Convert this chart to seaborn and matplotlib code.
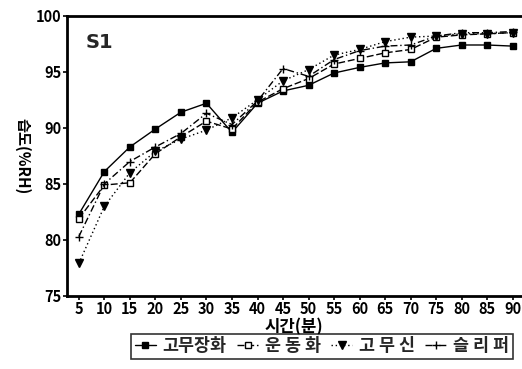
import matplotlib
matplotlib.use("Agg")
import matplotlib.pyplot as plt
import seaborn as sns
import pandas as pd

# ---- data ----
minutes = [5, 10, 15, 20, 25, 30, 35, 40, 45, 50, 55, 60, 65, 70, 75, 80, 85, 90]
rubber_boots = [82.3, 86.1, 88.3, 89.9, 91.4, 92.2, 89.6, 92.2, 93.3, 93.8, 94.9, 95.4, 95.8, 95.9, 97.1, 97.4, 97.4, 97.3]
sneakers     = [81.9, 84.9, 85.1, 87.7, 89.2, 90.6, 89.9, 92.3, 93.5, 94.4, 95.7, 96.2, 96.7, 97.0, 98.1, 98.3, 98.4, 98.5]
rubber_shoes = [77.9, 83.0, 86.0, 87.9, 89.0, 89.8, 90.9, 92.5, 94.2, 95.2, 96.5, 97.0, 97.7, 98.1, 98.2, 98.4, 98.4, 98.5]
slippers     = [80.3, 85.0, 87.0, 88.3, 89.5, 91.3, 90.3, 92.4, 95.3, 94.6, 96.1, 96.9, 97.3, 97.4, 98.2, 98.5, 98.5, 98.6]
series_names = ["고무장화", "운 동 화", "고 무 신", "슬 리 퍼"]
y_ticks = [75, 80, 85, 90, 95, 100]

sns.set_theme(style="white")
plt.rcParams["font.family"] = ["Liberation Sans Narrow", "Noto Sans CJK KR", "DejaVu Sans"]
plt.rcParams["font.weight"] = "bold"

fig = plt.figure(figsize=(5.22, 3.69), dpi=100)
ax = fig.add_axes([0.128, 0.198, 0.870, 0.759])

styles = [
    dict(marker="s", markersize=5, markerfacecolor="black", linestyle="-"),
    dict(marker="s", markersize=5, markerfacecolor="white", linestyle=(0, (5, 2))),
    dict(marker="v", markersize=6, markerfacecolor="black", linestyle=(0, (1, 2))),
    dict(marker="+", markersize=6, markerfacecolor="black", linestyle=(0, (5, 2, 1, 2))),
]
all_series = [rubber_boots, sneakers, rubber_shoes, slippers]
for name, vals, st in zip(series_names, all_series, styles):
    df = pd.DataFrame({"min": minutes, "rh": vals})
    sns.lineplot(data=df, x="min", y="rh", ax=ax, color="black", linewidth=1.0,
                 markeredgecolor="black", markeredgewidth=1.0, label=name, **st)

ax.set_xlim(2.65, 91.6)
ax.set_ylim(75, 100)
ax.set_xticks(minutes)
ax.set_xticklabels([str(m) for m in minutes])
ax.set_yticks(y_ticks)
ax.set_yticklabels([str(t) for t in y_ticks])
ax.tick_params(axis="both", direction="out", length=3, width=1.2, colors="black",
               labelsize=10.5, pad=1, bottom=True, left=True)
for lab in ax.get_xticklabels() + ax.get_yticklabels():
    lab.set_fontweight("bold")

for side in ["left", "bottom", "top"]:
    ax.spines[side].set_color("black")
    ax.spines[side].set_linewidth(2.0)
ax.spines["right"].set_visible(False)

ax.set_xlabel("시간(분)", fontsize=12, fontweight="bold", color="black", labelpad=0.5,
              family=["Noto Sans CJK KR", "DejaVu Sans"])
ax.set_ylabel("습도(%RH)", fontsize=11, fontweight="bold", color="black", rotation=270,
              labelpad=12, family=["Noto Sans CJK KR", "DejaVu Sans"])
ax.yaxis.set_label_coords(-0.115, 0.5)

ax.text(6.4, 97.6, "S1", fontsize=14, fontweight="bold", va="center", ha="left",
        family=["Liberation Sans Narrow", "DejaVu Sans"])

ax.get_legend().remove()
handles, labels = ax.get_legend_handles_labels()
leg = fig.legend(handles, labels, loc="center", bbox_to_anchor=(0.617, 0.062), ncol=4,
                 frameon=True, fancybox=False, edgecolor="black", handlelength=1.2,
                 handletextpad=0.4, columnspacing=0.6, borderpad=0.2,
                 prop={"family": ["Noto Sans CJK KR", "DejaVu Sans"], "weight": "bold", "size": 12.5})
leg.get_frame().set_linewidth(1.2)

fig.savefig("out.png", dpi=100)
